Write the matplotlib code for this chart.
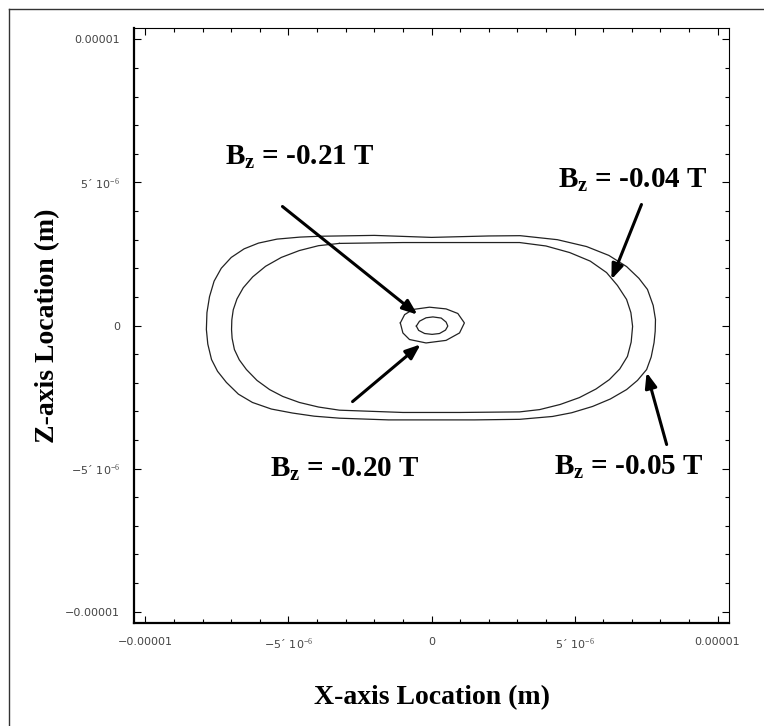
import numpy as np
from matplotlib import pyplot as plt
from matplotlib.ticker import FixedLocator, MultipleLocator

plt.rcParams['mathtext.fontset'] = 'custom'
plt.rcParams['mathtext.bf'] = 'Liberation Serif:bold'
plt.rcParams['mathtext.rm'] = 'Liberation Serif'

# contour outlines, in micrometres (x, z)
outer_05 = [(-3.9, 3.12), (-2.0, 3.15), (0.0, 3.08), (2.0, 3.13), (3.1, 3.14),
            (4.4, 3.0), (5.42, 2.76), (6.2, 2.45), (6.82, 2.06), (7.25, 1.65),
            (7.55, 1.26), (7.75, 0.7), (7.83, 0.21), (7.82, -0.2), (7.78, -0.6),
            (7.68, -1.1), (7.52, -1.54), (7.2, -1.92), (6.82, -2.24), (6.25, -2.57),
            (5.63, -2.83), (4.9, -3.05), (4.23, -3.18), (3.08, -3.28), (1.5, -3.3),
            (0.0, -3.3), (-1.5, -3.3), (-3.22, -3.24), (-4.1, -3.17), (-4.86, -3.06),
            (-5.6, -2.92), (-6.26, -2.69), (-6.75, -2.4), (-7.17, -1.99), (-7.48, -1.6),
            (-7.69, -1.19), (-7.82, -0.65), (-7.87, -0.14), (-7.85, 0.45), (-7.76, 1.01),
            (-7.6, 1.55), (-7.35, 2.0), (-7.0, 2.38), (-6.55, 2.68), (-6.05, 2.88),
            (-5.4, 3.02), (-4.6, 3.09), (-3.9, 3.12)]

inner_04 = [(-3.22, 2.87), (-1.0, 2.9), (1.0, 2.9), (3.08, 2.9), (4.0, 2.78),
            (4.83, 2.55), (5.55, 2.25), (6.12, 1.85), (6.5, 1.4), (6.82, 0.91),
            (6.97, 0.45), (7.03, -0.03), (6.98, -0.58), (6.85, -1.08), (6.58, -1.52),
            (6.22, -1.89), (5.75, -2.22), (5.17, -2.52), (4.5, -2.76), (3.78, -2.94),
            (3.08, -3.02), (1.0, -3.04), (-1.0, -3.04), (-3.22, -2.96), (-3.95, -2.85),
            (-4.62, -2.69), (-5.2, -2.48), (-5.66, -2.24), (-6.1, -1.92), (-6.47, -1.54),
            (-6.72, -1.2), (-6.89, -0.84), (-6.97, -0.45), (-6.99, -0.14), (-6.98, 0.2),
            (-6.93, 0.55), (-6.8, 0.93), (-6.58, 1.32), (-6.25, 1.7), (-5.8, 2.07),
            (-5.25, 2.38), (-4.62, 2.62), (-3.95, 2.79), (-3.22, 2.87)]

small_20 = [(-1.09, 0.09), (-0.94, 0.38), (-0.65, 0.56), (-0.07, 0.64), (0.51, 0.58),
            (0.92, 0.42), (1.15, 0.09), (0.98, -0.26), (0.51, -0.52), (-0.19, -0.61),
            (-0.77, -0.49), (-1.00, -0.26), (-1.09, 0.09)]

small_21 = [(-0.53, -0.02), (-0.42, 0.15), (-0.19, 0.27), (0.05, 0.30), (0.34, 0.26),
            (0.51, 0.12), (0.57, -0.02), (0.49, -0.16), (0.28, -0.28), (0.02, -0.31),
            (-0.24, -0.28), (-0.45, -0.17), (-0.53, -0.02)]

# label text, text centre, arrow tail, arrow head (micrometres)
labels = ["-0.21", "-0.04", "-0.20", "-0.05"]
label_pos = [(-4.62, 5.87), (7.03, 5.07), (-3.04, -5.03), (6.9, -4.97)]
arrow_tail = [(-5.21, 4.16), (7.34, 4.23), (-2.76, -2.66), (8.22, -4.16)]
arrow_head = [(-0.49, 0.38), (6.29, 1.61), (-0.38, -0.66), (7.52, -1.64)]

major_ticks = [-1e-5, -5e-6, 0, 5e-6, 1e-5]
x_tick_labels = ["\u22120.00001", "\u22125\u00b4 10$^{-6}$", "0", "5\u00b4 10$^{-6}$", "0.00001"]
y_tick_labels = ["\u22120.00001", "\u22125\u00b4 10$^{-6}$", "0", "5\u00b4 10$^{-6}$", "0.00001"]

fig = plt.figure(figsize=(7.64, 7.26), dpi=100)
ax = fig.add_axes([134/764, 103/726, 595/764, 595/726])

um = 1e-6
for shape in [outer_05, inner_04, small_20, small_21]:
    pts = np.array(shape) * um
    ax.plot(pts[:, 0], pts[:, 1], color="#222222", lw=0.9)

for lab, pos, tail, head in zip(labels, label_pos, arrow_tail, arrow_head):
    ax.annotate("", xy=(head[0]*um, head[1]*um), xytext=(tail[0]*um, tail[1]*um),
                arrowprops=dict(arrowstyle="-|>,head_length=0.9,head_width=0.35",
                                color="black", lw=2.2, shrinkA=0, shrinkB=0))
    ax.text(pos[0]*um, pos[1]*um, r"$\mathbf{B_z}$ = " + lab + " T",
            family="Liberation Serif", weight="bold", fontsize=21,
            ha="center", va="center")

ax.set_xlim(-1.04e-5, 1.04e-5)
ax.set_ylim(-1.04e-5, 1.04e-5)
ax.xaxis.set_major_locator(FixedLocator(major_ticks))
ax.yaxis.set_major_locator(FixedLocator(major_ticks))
ax.xaxis.set_minor_locator(MultipleLocator(1e-6))
ax.yaxis.set_minor_locator(MultipleLocator(1e-6))
ax.set_xticklabels(x_tick_labels)
ax.set_yticklabels(y_tick_labels)
ax.tick_params(which="both", direction="in", top=True, right=True, colors="black",
               labelcolor="#444444", labelsize=8, width=0.8)
ax.tick_params(which="major", length=5, pad=10)
ax.tick_params(which="minor", length=3)

ax.spines["left"].set_linewidth(1.6)
ax.spines["bottom"].set_linewidth(1.6)
ax.spines["top"].set_linewidth(0.8)
ax.spines["right"].set_linewidth(0.8)

fig.text(432/764, 1 - 698/726, "X-axis Location (m)", family="Liberation Serif",
         weight="bold", fontsize=20, ha="center", va="center")
fig.text(48/764, 1 - 326/726, "Z-axis Location (m)", family="Liberation Serif",
         weight="bold", fontsize=20, ha="center", va="center", rotation=90)

# frame around the whole figure
fig.add_artist(plt.Line2D([9/764, 9/764], [0, 1 - 9/726], color="#333333", lw=1.0))
fig.add_artist(plt.Line2D([9/764, 1], [1 - 9/726, 1 - 9/726], color="#333333", lw=1.0))

fig.savefig("out.png", dpi=100)
